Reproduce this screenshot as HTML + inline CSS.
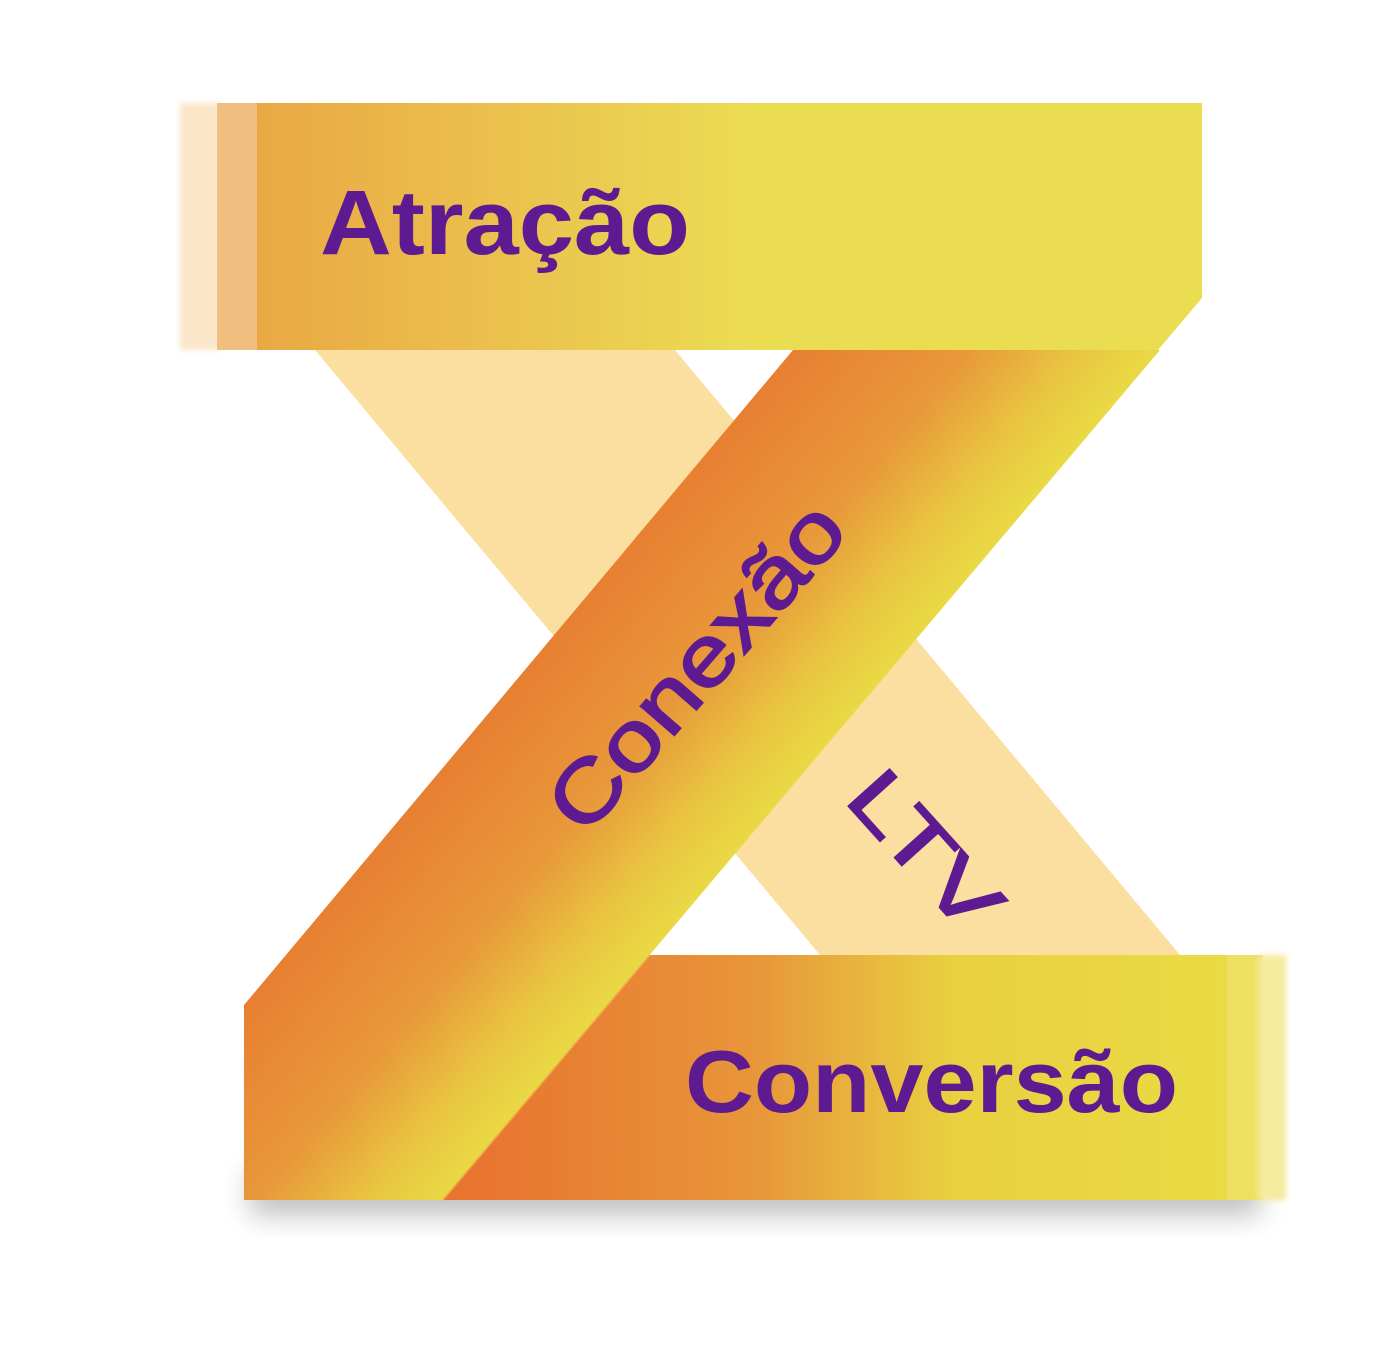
<!DOCTYPE html>
<html><head><meta charset="utf-8"><style>
html,body{margin:0;padding:0;background:#fff;width:1393px;height:1350px;overflow:hidden}
</style></head><body>
<svg width="1393" height="1350" viewBox="0 0 1393 1350" xmlns="http://www.w3.org/2000/svg">
<defs>
<linearGradient id="top" x1="217" y1="0" x2="1202" y2="0" gradientUnits="userSpaceOnUse">
<stop offset="0" stop-color="#eaa443"/><stop offset="0.3" stop-color="#ebc24e"/><stop offset="0.55" stop-color="#ebdd52"/><stop offset="1" stop-color="#ebdd52"/></linearGradient>
<linearGradient id="diag" x1="470" y1="650" x2="760" y2="893" gradientUnits="userSpaceOnUse">
<stop offset="0" stop-color="#e8752f"/><stop offset="0.5" stop-color="#e8983a"/><stop offset="0.72" stop-color="#e9c440"/><stop offset="0.88" stop-color="#e9d944"/><stop offset="1" stop-color="#e9d944"/></linearGradient>
<linearGradient id="bot" x1="443" y1="0" x2="1227" y2="0" gradientUnits="userSpaceOnUse">
<stop offset="0.05" stop-color="#e8752f"/><stop offset="0.4" stop-color="#e8963a"/><stop offset="0.65" stop-color="#e9d040"/><stop offset="1" stop-color="#e9db44"/></linearGradient>
<filter id="sh" x="-20%" y="-50%" width="140%" height="200%"><feGaussianBlur stdDeviation="14"/></filter>
<filter id="bl" x="-50%" y="-5%" width="200%" height="110%"><feGaussianBlur stdDeviation="3"/></filter>
</defs>
<rect x="250" y="1170" width="1010" height="45" fill="#000" opacity="0.25" filter="url(#sh)"/>
<polygon points="315,350 675,350 1180,955 820,955" fill="#fbdfa0"/>
<rect x="180" y="103" width="40" height="247" fill="#fbe5c8" filter="url(#bl)"/>
<rect x="217" y="103" width="40" height="247" fill="#f0bf7f"/>
<polygon points="257,103 1202,103 1202,298 1158,350 257,350" fill="url(#top)"/>
<polygon points="793,350 1160,350 443,1200 244,1200 244,1005" fill="url(#diag)"/>
<polygon points="650,955 1227,955 1227,1200 443,1200" fill="url(#bot)"/>
<rect x="1227" y="955" width="36" height="245" fill="#ede062"/>
<rect x="1258" y="955" width="28" height="245" fill="#f5eb9c" filter="url(#bl)"/>
<line x1="650" y1="955" x2="443" y2="1200" stroke="#f2a640" stroke-width="2" opacity="0.7"/>
<g font-family="'Liberation Sans', sans-serif" font-weight="bold" fill="#5e1a91">
<text x="320" y="254" font-size="92" textLength="370" lengthAdjust="spacingAndGlyphs">Atração</text>
<text x="685" y="1112" font-size="88" textLength="493" lengthAdjust="spacingAndGlyphs">Conversão</text>
<text font-size="84" font-weight="normal" stroke="#5e1a91" stroke-width="2" transform="translate(585,838) rotate(-49)" textLength="405" lengthAdjust="spacingAndGlyphs">Conexão</text>
<text font-size="80" font-weight="normal" stroke="#5e1a91" stroke-width="2" transform="translate(843,800) rotate(48)" textLength="185" lengthAdjust="spacingAndGlyphs">LTV</text>
</g>
</svg>
</body></html>
